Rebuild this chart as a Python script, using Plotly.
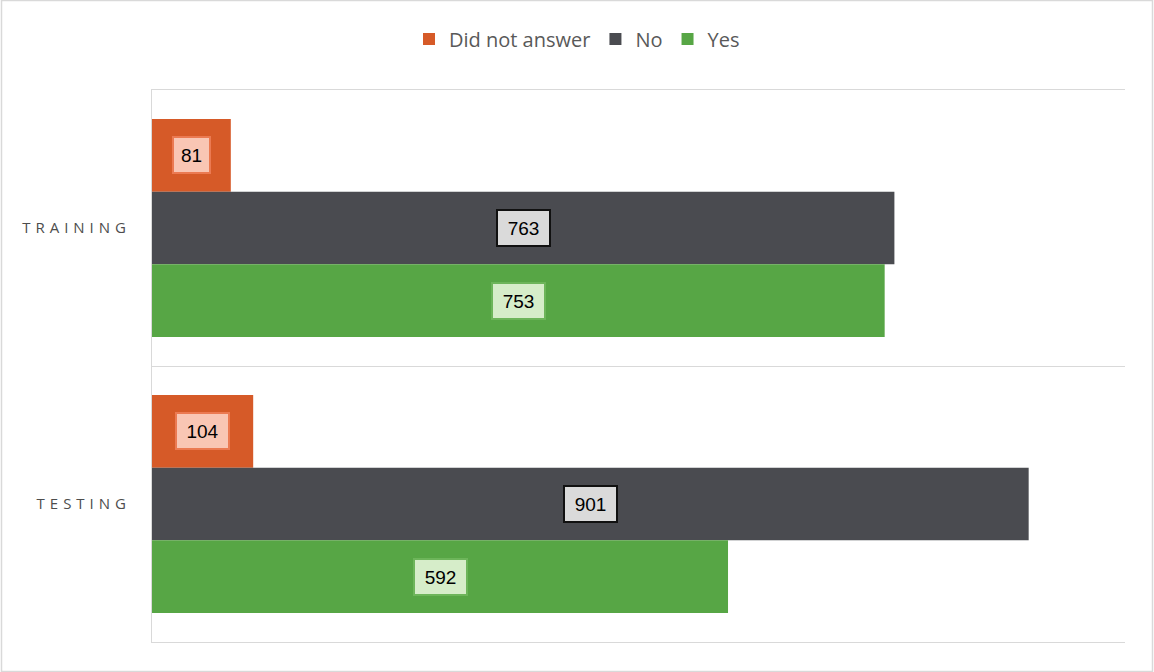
import plotly.graph_objects as go

categories = ["Training", "Testing"]
tick_labels = ["TRAINING", "TESTING"]
series_names = ["Did not answer", "No", "Yes"]
did_not_answer = [81, 104]
no_vals = [763, 901]
yes_vals = [753, 592]

colors = ["#D65A28", "#4A4B50", "#57A645"]
label_bg = ["#F9C6B4", "#DADADA", "#D6EDC9"]
label_border = ["#EB7A52", "#111111", "#6DB55A"]

series = [did_not_answer, no_vals, yes_vals]
bargap = 0.21

SP = "\u2004"
spaced_ticks = [SP.join(list(t)) for t in tick_labels]

fig = go.Figure()
for name, vals, col in zip(series_names, series, colors):
    fig.add_trace(go.Bar(
        name=name, y=categories, x=vals, orientation="h",
        marker=dict(color=col, line=dict(width=0)),
        hoverinfo="x+name",
    ))

annotations = []
n = len(series)
bw = (1 - bargap) / n
for i, vals in enumerate(series):
    for ci, v in enumerate(vals):
        ypos = ci - (1 - bargap) / 2 + (i + 0.5) * bw
        txt = str(v)
        annotations.append(dict(
            x=v / 2, y=ypos, xref="x", yref="y", text=txt, showarrow=False,
            font=dict(family="Liberation Sans, Arial", size=19, color="#000000"),
            bgcolor=label_bg[i], bordercolor=label_border[i], borderwidth=2,
            borderpad=6, width=16 * len(txt) - 9, height=22,
        ))

W, H = 1154, 672
ml, mr, mt, mb = 152, 29, 90, 30
pw, ph = W - ml - mr, H - mt - mb

def px_x(p):
    return (p - ml) / pw

def px_y(p):
    return (H - mb - p) / ph

fig.update_layout(
    width=W, height=H,
    margin=dict(l=ml, r=mr, t=mt, b=mb),
    paper_bgcolor="white", plot_bgcolor="white",
    barmode="group", bargap=bargap, bargroupgap=0,
    annotations=annotations,
    legend=dict(
        orientation="h", xref="container", yref="container",
        x=0.5, xanchor="center", y=1 - 39 / H, yanchor="middle",
        font=dict(family="Open Sans, Noto Sans", size=20, color="#595959"),
        traceorder="normal", itemwidth=30,
    ),
    xaxis=dict(range=[0, 1000], showgrid=False, showticklabels=False,
               zeroline=False, showline=True, mirror=True,
               linecolor="#D9D9D9", linewidth=1, ticks="", fixedrange=True),
    yaxis=dict(
        type="category", categoryorder="array", categoryarray=categories,
        autorange="reversed", tickmode="array", tickvals=categories,
        ticktext=spaced_ticks, tickson="boundaries", ticks="",
        showgrid=True, gridcolor="#D9D9D9", gridwidth=1,
        showline=True, linecolor="#D9D9D9", linewidth=1,
        tickfont=dict(family="Open Sans, Noto Sans", size=15, color="#4D4D4D"),
        ticklabelstandoff=22,
    ),
    shapes=[dict(
        type="rect", xref="paper", yref="paper",
        x0=px_x(1.5), x1=px_x(1152.5), y0=px_y(671.5), y1=px_y(0.5),
        line=dict(color="#D9D9D9", width=1.5), fillcolor="rgba(0,0,0,0)",
        layer="below",
    )],
)

fig.write_html(
    "out.html",
    config={"displayModeBar": False},
    post_script="document.body.style.margin='0';document.body.style.overflow='hidden';",
)
